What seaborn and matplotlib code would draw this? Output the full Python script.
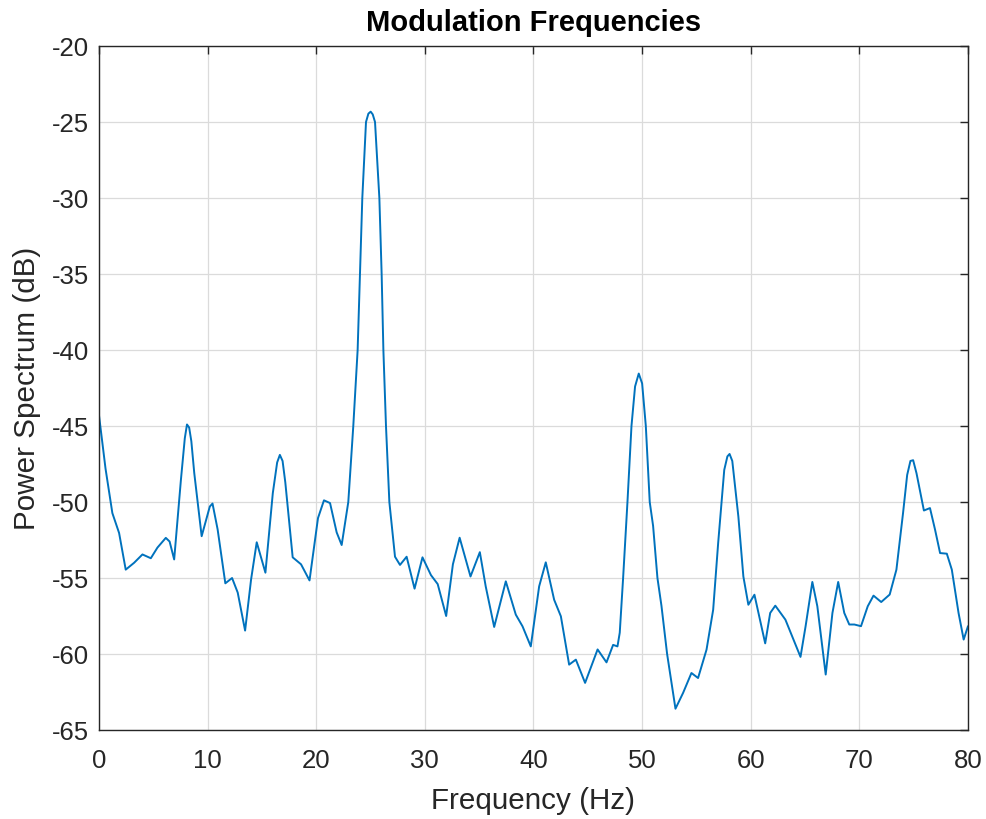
import matplotlib
matplotlib.use("Agg")
import matplotlib.pyplot as plt
import seaborn as sns
import pandas as pd

freq_hz = [0.0, 0.6, 1.23, 1.85, 2.46, 3.23, 4.0, 4.77, 5.38, 6.15, 6.5, 6.92, 7.54, 7.9, 8.1, 8.3, 8.5,
           8.77, 9.45, 10.2, 10.45, 10.92, 11.63, 12.25, 12.77, 13.45, 14.0, 14.52, 15.32, 16.0, 16.4,
           16.65, 16.9, 17.15, 17.83, 18.6, 19.38, 20.16, 20.71, 21.27, 21.88, 22.34, 22.95, 23.41,
           23.81, 24.03, 24.24, 24.58, 24.8, 25.01, 25.2, 25.41, 25.81, 26.02, 26.18, 26.42, 26.73,
           27.25, 27.71, 28.32, 29.05, 29.78, 30.56, 31.18, 31.96, 32.58, 33.2, 34.2, 35.06, 35.6,
           36.38, 37.45, 38.37, 38.99, 39.75, 40.52, 41.13, 41.9, 42.52, 43.28, 43.9, 44.75, 45.9,
           46.72, 47.33, 47.73, 47.94, 48.25, 48.65, 49.02, 49.35, 49.69, 50.0, 50.34, 50.7, 51.01,
           51.41, 51.78, 52.3, 53.07, 53.77, 54.54, 55.15, 55.93, 56.54, 57.0, 57.56, 57.85, 58.05,
           58.3, 58.86, 59.32, 59.78, 60.34, 60.71, 61.33, 61.79, 62.26, 63.19, 63.81, 64.58, 65.05,
           65.67, 66.13, 66.9, 67.52, 68.05, 68.61, 69.07, 69.54, 70.15, 70.77, 71.3, 72.01, 72.79,
           73.41, 74.02, 74.4, 74.7, 74.95, 75.26, 75.94, 76.5, 76.97, 77.43, 78.05, 78.51, 79.13,
           79.6, 80.0]
power_db = [-44.3, -47.8, -50.73, -52.04, -54.45, -54.0, -53.45, -53.7, -53.0, -52.36, -52.6, -53.78,
            -48.55, -45.8, -44.9, -45.1, -46.0, -48.1, -52.25, -50.3, -50.1, -51.8, -55.35, -55.0,
            -55.96, -58.46, -55.1, -52.65, -54.65, -49.42, -47.4, -46.9, -47.3, -48.7, -53.64, -54.1,
            -55.16, -51.06, -49.89, -50.07, -52.0, -52.83, -50.0, -45.0, -40.0, -35.0, -30.0, -25.0,
            -24.45, -24.32, -24.5, -25.0, -30.0, -35.0, -40.0, -45.0, -50.0, -53.6, -54.14, -53.6,
            -55.7, -53.64, -54.81, -55.4, -57.5, -54.1, -52.35, -54.9, -53.3, -55.55, -58.22, -55.22,
            -57.41, -58.18, -59.5, -55.55, -53.97, -56.43, -57.52, -60.7, -60.37, -61.9, -59.7, -60.55,
            -59.4, -59.5, -58.6, -55.0, -50.0, -45.0, -42.4, -41.55, -42.2, -45.0, -50.0, -51.57,
            -55.0, -56.83, -60.0, -63.6, -62.56, -61.25, -61.58, -59.71, -57.09, -52.7, -47.89, -47.0,
            -46.84, -47.3, -50.96, -54.9, -56.76, -56.1, -57.3, -59.3, -57.3, -56.82, -57.74, -58.83,
            -60.19, -58.17, -55.26, -56.86, -61.35, -57.3, -55.26, -57.3, -58.06, -58.06, -58.17,
            -56.86, -56.16, -56.58, -56.09, -54.45, -50.73, -48.22, -47.3, -47.25, -48.11, -50.56,
            -50.4, -51.83, -53.36, -53.4, -54.45, -57.3, -59.05, -58.17]

x_ticks = [0, 10, 20, 30, 40, 50, 60, 70, 80]
y_ticks = [-65, -60, -55, -50, -45, -40, -35, -30, -25, -20]

title_text = "Modulation Frequencies"
x_label = "Frequency (Hz)"
y_label = "Power Spectrum (dB)"

sns.set_style("white")
plt.rcParams['font.family'] = ['Liberation Sans', 'DejaVu Sans']
plt.rcParams['axes.unicode_minus'] = False

df = pd.DataFrame({"f": freq_hz, "p": power_db})

fig = plt.figure(figsize=(9.87, 8.19), dpi=100)
ax = fig.add_axes([99/987, 1-730/819, (968-99)/987, (730-46)/819])

sns.lineplot(data=df, x="f", y="p", ax=ax, color="#0072BD", linewidth=1.4,
             estimator=None, sort=False)
for ln in ax.get_lines():
    ln.set_solid_joinstyle("round")

ax.set_xlim(0, 80)
ax.set_ylim(-65, -20)
ax.set_xticks(x_ticks)
ax.set_yticks(y_ticks)
ax.set_xticklabels([str(v) for v in x_ticks])
ax.set_yticklabels([str(v) for v in y_ticks])

ax.grid(True, color="#DBDBDB", linewidth=0.9)
ax.set_axisbelow(True)
for s in ax.spines.values():
    s.set_visible(True)
    s.set_color("#262626")
    s.set_linewidth(1.0)

ax.tick_params(axis="both", which="both", direction="in", length=6, width=1.0,
               colors="#262626", labelsize=18.5, top=True, right=True)
ax.tick_params(axis="x", pad=14)
ax.tick_params(axis="y", pad=7)
for lbl in ax.get_xticklabels() + ax.get_yticklabels():
    lbl.set_color("#262626")

ax.set_xlabel(x_label, fontsize=21.3, color="#262626", labelpad=10)
ax.set_ylabel(y_label, fontsize=21.3, color="#262626", labelpad=8)
ax.set_title(title_text, fontsize=21, fontweight="bold", color="black", pad=11)

fig.savefig("out.png", dpi=100, facecolor="white")
